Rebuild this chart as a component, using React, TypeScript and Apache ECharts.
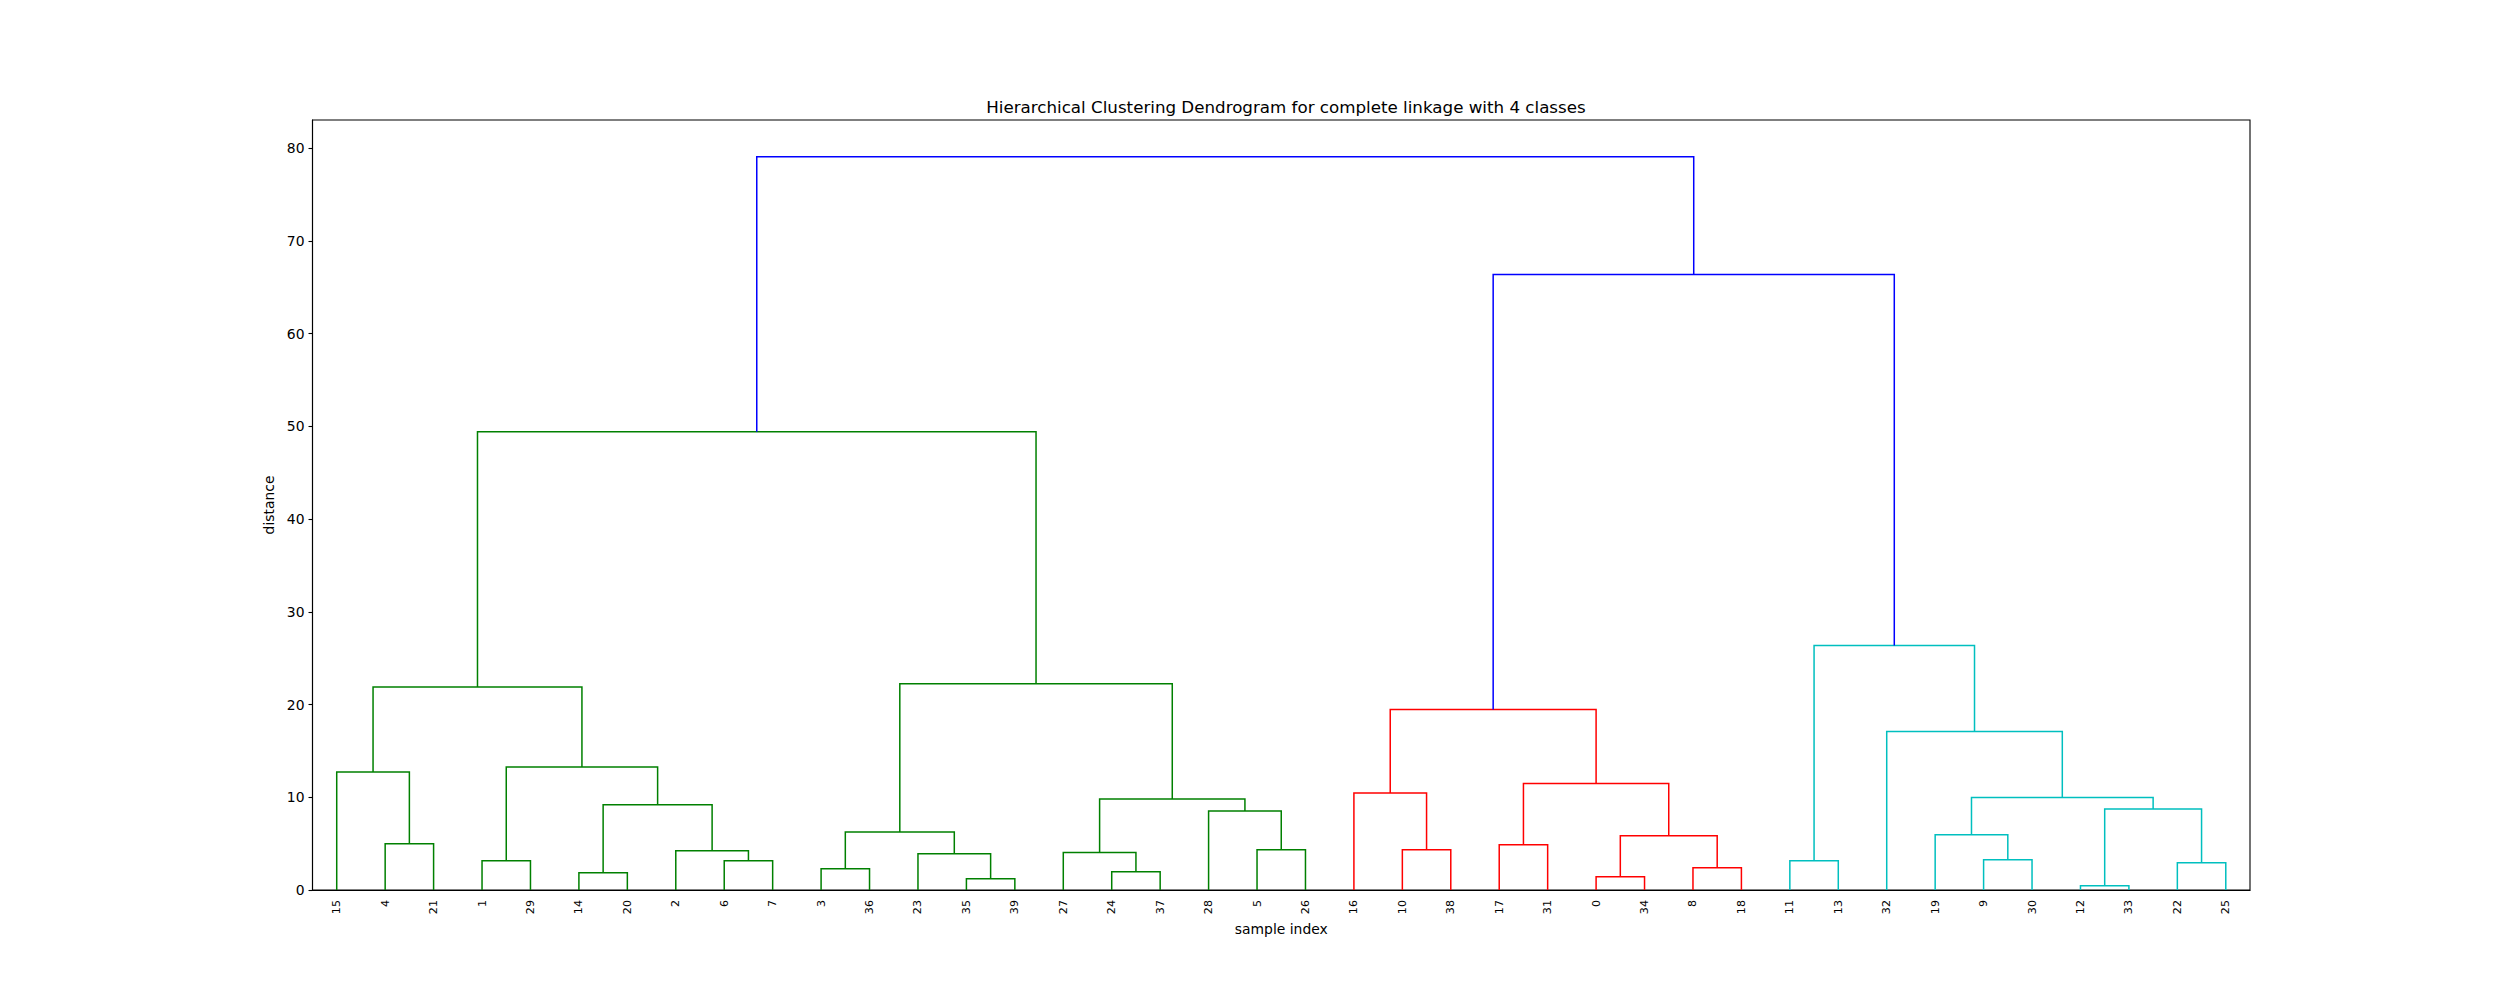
import React, { useEffect, useRef } from "react";
import * as echarts from "echarts";

// Leaf order along the x axis (sample indices)
const leafLabels = [
  "15", "4", "21", "1", "29", "14", "20", "2", "6", "7",
  "3", "36", "23", "35", "39", "27", "24", "37", "28", "5",
  "26", "16", "10", "38", "17", "31", "0", "34", "8", "18",
  "11", "13", "32", "19", "9", "30", "12", "33", "22", "25",
];

// Merges: children are leaf labels ("15") or earlier merges ("m0")
const mergeLeft = [
  "4", "15", "1", "14", "6", "2", "m3", "m2", "m1", "3",
  "35", "23", "m9", "24", "27", "5", "28", "m14", "m12", "m8",
  "10", "16", "17", "0", "8", "m23", "m22", "m21", "11", "9",
  "19", "12", "22", "m31", "m30", "32", "m28", "m27", "m19",
];
const mergeRight = [
  "21", "m0", "29", "20", "7", "m4", "m5", "m6", "m7", "36",
  "39", "m10", "m11", "37", "m13", "26", "m15", "m16", "m17", "m18",
  "38", "m20", "31", "34", "18", "m24", "m25", "m26", "13", "30",
  "m29", "33", "25", "m32", "m33", "m34", "m35", "m36", "m37",
];
const mergeHeight = [
  5.0, 12.73, 3.16, 1.87, 3.16, 4.24, 9.2, 13.27, 21.9, 2.3,
  1.22, 3.92, 6.26, 1.98, 4.03, 4.35, 8.52, 9.82, 22.25, 49.4,
  4.35, 10.46, 4.89, 1.44, 2.41, 5.86, 11.47, 19.45, 3.16, 3.27,
  5.97, 0.47, 2.95, 8.74, 9.96, 17.08, 26.35, 66.37, 79.06,
];
// cluster of each merge: 0 green, 1 red, 2 cyan, 3 above threshold
const mergeCluster = [
  0, 0, 0, 0, 0, 0, 0, 0, 0, 0,
  0, 0, 0, 0, 0, 0, 0, 0, 0, 0,
  1, 1, 1, 1, 1, 1, 1, 1, 2, 2,
  2, 2, 2, 2, 2, 2, 2, 3, 3,
];
const clusterColors = ["#008000", "#ff0000", "#00bfbf", "#0000ff"];

const yTicks = [0, 10, 20, 30, 40, 50, 60, 70, 80];
const yMax = 83.02;

function buildLinks() {
  const pos: Record<string, [number, number]> = {};
  leafLabels.forEach((l, i) => {
    pos[l] = [5 + 10 * i, 0];
  });
  const rows: number[][] = [];
  mergeLeft.forEach((a, k) => {
    const b = mergeRight[k];
    const h = mergeHeight[k];
    const pa = pos[a];
    const pb = pos[b];
    rows.push([pa[0], pa[1], pb[0], pb[1], h, mergeCluster[k]]);
    pos["m" + k] = [(pa[0] + pb[0]) / 2, h];
  });
  return rows;
}

export default function App() {
  const ref = useRef<HTMLDivElement>(null);
  useEffect(() => {
    if (!ref.current) return;
    const chart = echarts.init(ref.current, undefined, { renderer: "svg" });
    const links = buildLinks();
    const font = "DejaVu Sans";
    chart.setOption({
      animation: false,
      backgroundColor: "#ffffff",
      title: {
        text: "Hierarchical Clustering Dendrogram for complete linkage with 4 classes",
        left: 1281,
        textAlign: "center",
        top: 93,
        textStyle: { fontFamily: font, fontSize: 16.7, fontWeight: "normal", color: "#000" },
      },
      grid: {
        left: 312.5,
        right: 250,
        top: 120,
        bottom: 110,
        show: true,
        borderColor: "#000",
        borderWidth: 1.1,
        backgroundColor: "transparent",
      },
      xAxis: [
        {
          type: "category",
          data: leafLabels,
          boundaryGap: true,
          name: "sample index",
          nameLocation: "middle",
          nameGap: 29,
          nameTextStyle: { fontFamily: font, fontSize: 13.9, color: "#000" },
          axisLine: { show: true, lineStyle: { color: "#000", width: 1.1 } },
          axisTick: { show: false },
          axisLabel: {
            interval: 0,
            rotate: 90,
            margin: 10,
            fontFamily: font,
            fontSize: 11.1,
            color: "#000",
          },
          splitLine: { show: false },
        },
        {
          type: "value",
          min: 0,
          max: 400,
          show: false,
          splitLine: { show: false },
        },
      ],
      yAxis: {
        type: "value",
        min: 0,
        max: yMax,
        name: "distance",
        nameLocation: "middle",
        nameRotate: 90,
        nameGap: 34,
        nameTextStyle: { fontFamily: font, fontSize: 13.9, color: "#000" },
        axisLine: { show: true, lineStyle: { color: "#000", width: 1.1 } },
        axisTick: {
          show: true,
          length: 4,
          inside: false,
          customValues: yTicks,
          lineStyle: { color: "#000", width: 1.1 },
        },
        axisLabel: {
          customValues: yTicks,
          margin: 8,
          fontFamily: font,
          fontSize: 13.9,
          color: "#000",
        },
        splitLine: { show: false },
      },
      series: [
        {
          type: "custom",
          xAxisIndex: 1,
          yAxisIndex: 0,
          clip: false,
          encode: { x: [0, 2], y: [1, 3, 4] },
          data: links,
          renderItem: (params: any, api: any) => {
            const xl = api.value(0);
            const yl = api.value(1);
            const xr = api.value(2);
            const yr = api.value(3);
            const h = api.value(4);
            const c = api.value(5);
            const p1 = api.coord([xl, yl]);
            const p2 = api.coord([xl, h]);
            const p3 = api.coord([xr, h]);
            const p4 = api.coord([xr, yr]);
            return {
              type: "polyline",
              shape: { points: [p1, p2, p3, p4] },
              style: { stroke: clusterColors[c], lineWidth: 1.5, fill: "none" },
            };
          },
        },
      ],
    });
    return () => chart.dispose();
  }, []);
  return (
    <div
      ref={ref}
      style={{ position: "fixed", left: 0, top: 0, width: 2500, height: 1000, background: "#fff" }}
    />
  );
}
